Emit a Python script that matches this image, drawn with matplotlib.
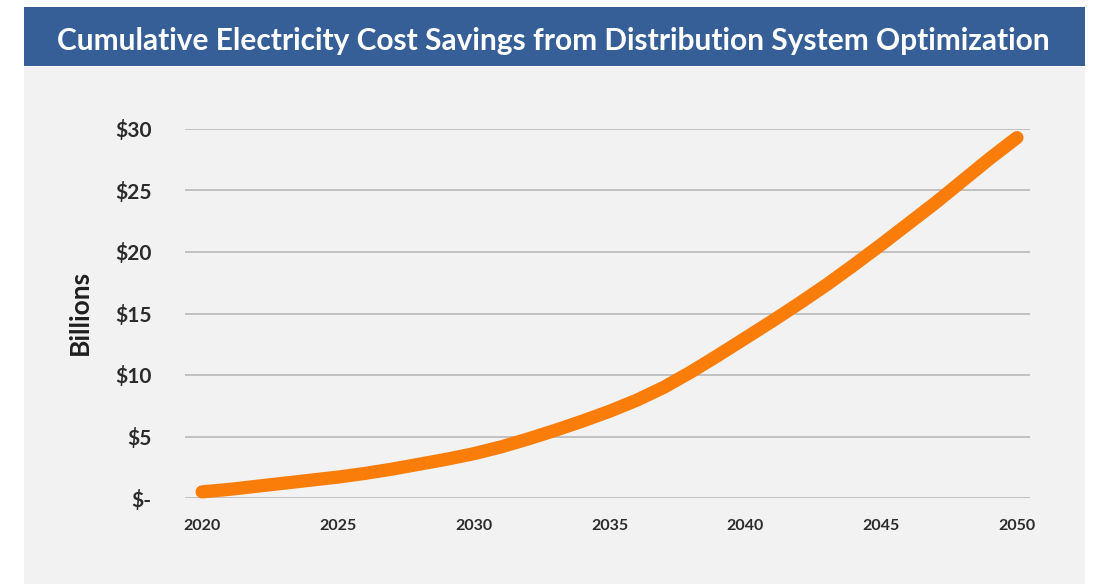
import matplotlib
matplotlib.use("Agg")
import matplotlib.pyplot as plt
from matplotlib.patches import Rectangle

# Cumulative savings, billions of dollars
years = list(range(2020, 2051))
savings = [0.5, 0.7, 0.95, 1.2, 1.45, 1.7, 2.0, 2.35, 2.75, 3.15,
           3.6, 4.15, 4.8, 5.5, 6.25, 7.05, 7.95, 9.0, 10.25, 11.6,
           13.0, 14.4, 15.85, 17.35, 18.95, 20.6, 22.3, 24.0, 25.8, 27.6,
           29.3]
y_ticks = [0, 5, 10, 15, 20, 25, 30]
y_tick_labels = ["$-", "$5", "$10", "$15", "$20", "$25", "$30"]
x_ticks = [2020, 2025, 2030, 2035, 2040, 2045, 2050]

title = "Cumulative Electricity Cost Savings from Distribution System Optimization"

W, H = 1094, 584
fig = plt.figure(figsize=(W / 100, H / 100), dpi=100, facecolor="white")

# Light panel and title banner
fig.patches.append(Rectangle((24 / W, 0), (1085 - 24) / W, 1 - 67 / H,
                             transform=fig.transFigure, facecolor="#f2f2f2",
                             edgecolor="none", zorder=-2))
fig.patches.append(Rectangle((24 / W, 1 - 66 / H), (1085 - 24) / W, (66 - 7) / H,
                             transform=fig.transFigure, facecolor="#365f97",
                             edgecolor="none", zorder=-2))
fig.text(553 / W, 1 - 41 / H, title, color="white", fontsize=21.5,
         fontfamily="Lato", fontweight="bold", ha="center", va="center")

ax = fig.add_axes([185 / W, 1 - 498 / H, (1030 - 185) / W, (498 - 129) / H])
ax.set_zorder(1)
ax.set_facecolor("none")
ax.set_xlim(2019.37, 2050.48)
ax.set_ylim(0, 30)

ax.plot(years, savings, color="#fa7d0a", linewidth=9.5,
        solid_capstyle="round", solid_joinstyle="round", clip_on=False, zorder=3)

ax.set_yticks(y_ticks)
ax.set_yticklabels(y_tick_labels)
ax.set_xticks(x_ticks)
ax.set_xticklabels([str(x) for x in x_ticks])
ax.tick_params(axis="y", length=0, pad=24, labelsize=15, labelcolor="#2b2b2b")
ax.tick_params(axis="x", length=0, pad=15, labelsize=11.5, labelcolor="#2b2b2b")
for lbl in ax.get_yticklabels() + ax.get_xticklabels():
    lbl.set_fontfamily("Lato")
    lbl.set_fontweight("bold")

ax.grid(axis="y", color="#bdbdbd", linewidth=1.3)
ax.grid(axis="x", visible=False)
ax.set_axisbelow(True)
for s in ax.spines.values():
    s.set_visible(False)

fig.text(80 / W, 1 - 312 / H, "Billions", rotation=90, fontsize=19,
         fontfamily="Lato", fontweight="bold", color="#1f1f1f",
         ha="center", va="center")

fig.savefig("out.png", dpi=100, facecolor="white")
